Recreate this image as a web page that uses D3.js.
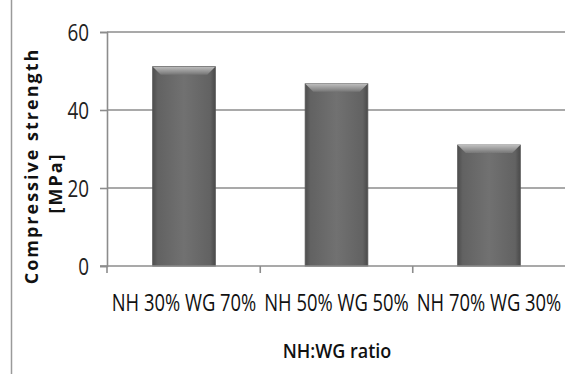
<!DOCTYPE html>
<html>
<head>
<meta charset="utf-8">
<script src="https://cdn.jsdelivr.net/npm/d3@7"></script>
<style>
  html, body { margin: 0; padding: 0; background: #fff; }
  svg { display: block; }
</style>
</head>
<body>
<div id="chart"></div>
<script>
// Compressive strength by NH:WG ratio
const categories = ["NH 30% WG 70%", "NH 50% WG 50%", "NH 70% WG 30%"];
const strength = [51.1, 46.7, 31.0];
const yTicks = [0, 20, 40, 60];

const W = 565, H = 374;
const margin = { left: 107, right: 0, top: 32, bottom: 108 };
const FONT = "'Open Sans', sans-serif";
const SX = 0.82; // horizontal squeeze for the narrow label face
const SXC = 0.8; // squeeze for the category labels

const svg = d3.select("#chart").append("svg")
  .attr("width", W).attr("height", H);

const defs = svg.append("defs");
const body = defs.append("linearGradient").attr("id", "barBody")
  .attr("x1", 0).attr("x2", 1).attr("y1", 0).attr("y2", 0);
[[0, "#4e4e4e"], [0.08, "#626262"], [0.5, "#717171"], [0.92, "#626262"], [1, "#4a4a4a"]]
  .forEach(([o, c]) => body.append("stop").attr("offset", o).attr("stop-color", c));
const cap = defs.append("linearGradient").attr("id", "barCap")
  .attr("x1", 0).attr("x2", 0).attr("y1", 0).attr("y2", 1);
[[0, "#bdbdbd"], [0.5, "#9a9a9a"], [1, "#757575"]]
  .forEach(([o, c]) => cap.append("stop").attr("offset", o).attr("stop-color", c));
defs.append("filter").attr("id", "soft")
  .append("feGaussianBlur").attr("stdDeviation", 0.5);

const x = d3.scaleBand().domain(categories)
  .range([margin.left, 566]).paddingInner(0.59).paddingOuter(0.3);
const y = d3.scaleLinear().domain([0, 60]).range([H - margin.bottom, margin.top]);

// outer frame line on the left
svg.append("line").attr("x1", 11.5).attr("x2", 11.5).attr("y1", 0).attr("y2", H)
  .attr("stroke", "#9a9a9a").attr("stroke-width", 1.5);

// horizontal gridlines
svg.append("g").selectAll("line").data(yTicks.filter(d => d > 0)).join("line")
  .attr("x1", margin.left).attr("x2", W)
  .attr("y1", d => y(d)).attr("y2", d => y(d))
  .attr("stroke", "#8c8c8c").attr("stroke-width", 1.6);

// y axis
const yAxis = svg.append("g").attr("transform", `translate(${margin.left},0)`)
  .call(d3.axisLeft(y).tickValues(yTicks).tickSize(7).tickPadding(10));
yAxis.select(".domain").attr("stroke", "#8c8c8c").attr("stroke-width", 1.6);
yAxis.selectAll(".tick line").attr("stroke", "#8c8c8c").attr("stroke-width", 1.6);
yAxis.selectAll("text").attr("fill", "#222")
  .style("font-family", FONT).style("font-size", "23px")
  .attr("x", -18 / SX).attr("dy", "0.36em")
  .attr("transform", `scale(${SX},1)`);

// bars
const bars = svg.append("g").selectAll("g").data(strength).join("g");
bars.append("rect")
  .attr("x", (d, i) => x(categories[i])).attr("width", x.bandwidth())
  .attr("y", d => y(d)).attr("height", d => y(0) - y(d))
  .attr("fill", "url(#barBody)").attr("stroke", "#555").attr("stroke-width", 1);
bars.append("path")
  .attr("d", (d, i) => {
    const x0 = x(categories[i]), x1 = x0 + x.bandwidth(), t = y(d), b = 8;
    return `M${x0},${t}L${x1},${t}L${x1 - b},${t + b}L${x0 + b},${t + b}Z`;
  })
  .attr("fill", "url(#barCap)").attr("filter", "url(#soft)");

// x axis
const xAxis = svg.append("g").attr("transform", `translate(0,${y(0)})`)
  .call(d3.axisBottom(x).tickSize(0).tickPadding(29));
xAxis.select(".domain").attr("stroke", "#8c8c8c").attr("stroke-width", 1.6)
  .attr("d", `M${margin.left - 7},0H${W}`);
xAxis.selectAll(".tick").each(function () {
  const t = d3.select(this);
  const tx = +t.attr("transform").match(/translate\(([^,]+)/)[1];
  t.attr("transform", `translate(${tx},0) scale(${SXC},1)`);
});
xAxis.selectAll("text").attr("fill", "#111")
  .style("font-family", FONT).style("font-size", "23px");
// category divider ticks
const bounds = [margin.left].concat(categories.slice(1)
  .map(c => x(c) - x.step() * x.paddingInner() / 2));
svg.append("g").selectAll("line").data(bounds).join("line")
  .attr("x1", d => d).attr("x2", d => d)
  .attr("y1", y(0)).attr("y2", y(0) + 7)
  .attr("stroke", "#8c8c8c").attr("stroke-width", 1.6);

// axis titles
svg.append("text").attr("transform", `translate(337,358) scale(0.9,1)`)
  .attr("text-anchor", "middle")
  .attr("fill", "#111").style("font-family", FONT)
  .style("font-size", "20px").style("font-weight", "600").text("NH:WG ratio");

svg.append("text").attr("transform", `translate(38,166) rotate(-90)`)
  .attr("text-anchor", "middle").attr("fill", "#111")
  .style("font-family", FONT).style("font-size", "18px")
  .style("font-weight", "700").style("letter-spacing", "2px")
  .text("Compressive strength");
svg.append("text").attr("transform", `translate(62,183) rotate(-90)`)
  .attr("text-anchor", "middle").attr("fill", "#111")
  .style("font-family", FONT).style("font-size", "18px")
  .style("font-weight", "700").style("letter-spacing", "2px")
  .text("[MPa]");
</script>
</body>
</html>
